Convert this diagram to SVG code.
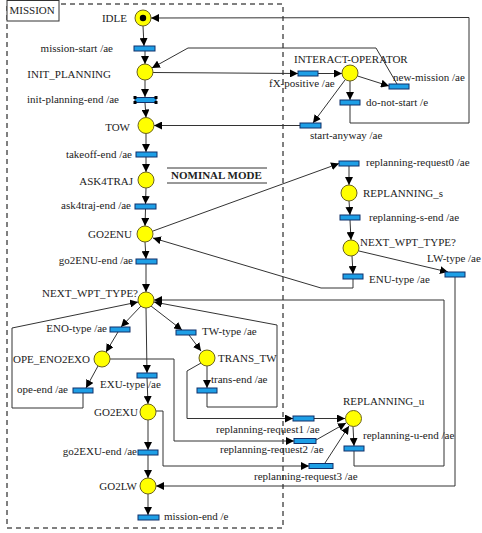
<svg xmlns="http://www.w3.org/2000/svg" width="482" height="533" viewBox="0 0 482 533">
<defs>
<marker id="ah" markerUnits="userSpaceOnUse" markerWidth="9" markerHeight="8" refX="8" refY="4" orient="auto">
<path d="M0,0 L8,4 L0,8 z" fill="#000"/>
</marker>
<style>
text{font-family:"Liberation Serif","Times New Roman",serif;font-size:11px;fill:#222}
.e{text-anchor:end}
.pl{fill:#ffff00;stroke:#6b6220;stroke-width:1}
.tr{fill:#1e9fe6;stroke:#10306a;stroke-width:1}
.cn{fill:none;stroke:#333;stroke-width:1;marker-end:url(#ah)}
.sel{fill:#000}
</style>
</defs>
<rect width="482" height="533" fill="#fff"/>
<rect x="7" y="4" width="276" height="524" fill="none" stroke="#000" stroke-dasharray="5,4"/>
<g id="mission-label">
<rect x="7" y="0.5" width="52" height="20.5" fill="#fff" stroke="#333"/>
<text x="9.5" y="14">MISSION</text>
</g>
<g id="nominal-mode">
<line x1="167" y1="168" x2="267" y2="168" stroke="#333"/>
<line x1="167" y1="183" x2="267" y2="183" stroke="#333"/>
<text x="171" y="179" style="font-weight:bold">NOMINAL MODE</text>
</g>
<g id="connectors">
<path class="cn" d="M143,26 L144,46"/>
<path class="cn" d="M145,51 L145,64"/>
<path class="cn" d="M145,80 L145,97"/>
<path class="cn" d="M145,103 L146,117.5"/>
<path class="cn" d="M146,133.5 L146,152"/>
<path class="cn" d="M146,157 L146,172"/>
<path class="cn" d="M146,188 L145.5,204"/>
<path class="cn" d="M145.5,209 L145,226"/>
<path class="cn" d="M145,242 L146,259"/>
<path class="cn" d="M146,264 L146,292"/>
<path class="cn" d="M141,306 L121,327"/>
<path class="cn" d="M118,332 L106,352"/>
<path class="cn" d="M151,306 L182,330"/>
<path class="cn" d="M189,335 L201,351"/>
<path class="cn" d="M146,308 L147,373"/>
<path class="cn" d="M147,378 L148,404"/>
<path class="cn" d="M98,366 L86,388"/>
<path class="cn" d="M83,393 L83,408 L12,408 L12,328 L138,302"/>
<path class="cn" d="M207,366 L207,388"/>
<path class="cn" d="M207,393 L207,407 L277,407 L277,325 L154,302"/>
<path class="cn" d="M148,420 L148,450"/>
<path class="cn" d="M148,455 L148,478"/>
<path class="cn" d="M148,494 L148,515"/>
<path class="cn" d="M153,72.5 L298,73.5"/>
<path class="cn" d="M318,73.5 L342,73.5"/>
<path class="cn" d="M357.5,76 L389,86"/>
<path class="cn" d="M350,81 L350,100"/>
<path class="cn" d="M345,80 L313,123"/>
<path class="cn" d="M300,125.5 L154,125.5"/>
<path class="cn" d="M397,84 L376,48 L188,48 L152,68"/>
<path class="cn" d="M350,105 L350,123 L469,123 L469,17.5 L151,18"/>
<path class="cn" d="M153,231 L339,163.5"/>
<path class="cn" d="M349,166 L349,185"/>
<path class="cn" d="M349,201 L350,215"/>
<path class="cn" d="M350,220 L351,240"/>
<path class="cn" d="M352,256 L353,274"/>
<path class="cn" d="M353,279 L353,288 L321,288 L153,238"/>
<path class="cn" d="M359,251 L448,272"/>
<path class="cn" d="M455,277 L455,486 L156,486"/>
<path class="cn" d="M110,359 L174,359 L174,441 L294,441"/>
<path class="cn" d="M201,363 L187,371 L187,418.5 L293,418.5"/>
<path class="cn" d="M156,411 L163,411 L163,466 L309,466"/>
<path class="cn" d="M314,418.5 L345,418.5"/>
<path class="cn" d="M316,440 L346,423"/>
<path class="cn" d="M325,463 L349,426"/>
<path class="cn" d="M353,426.5 L354,446"/>
<path class="cn" d="M354,451 L354,466 L444,466 L444,300 L154,300"/>
</g>
<g id="IDLE"><circle class="pl" cx="143" cy="18" r="8"/><circle cx="143" cy="18" r="3.2" fill="#000"/><text class="e" x="127" y="22">IDLE</text></g>
<g id="INIT_PLANNING"><circle class="pl" cx="145" cy="72" r="8"/><text class="e" x="111" y="78">INIT_PLANNING</text></g>
<g id="TOW"><circle class="pl" cx="146" cy="125.5" r="8"/><text class="e" x="130" y="131">TOW</text></g>
<g id="ASK4TRAJ"><circle class="pl" cx="146" cy="180" r="8"/><text class="e" x="133" y="185">ASK4TRAJ</text></g>
<g id="GO2ENU"><circle class="pl" cx="145" cy="234" r="8"/><text class="e" x="132" y="238">GO2ENU</text></g>
<g id="NEXT_WPT_TYPE"><circle class="pl" cx="146" cy="300" r="8"/><text class="e" x="138" y="297">NEXT_WPT_TYPE?</text></g>
<g id="OPE_ENO2EXO"><circle class="pl" cx="102" cy="359" r="8"/><text x="13" y="363">OPE_ENO2EXO</text></g>
<g id="TRANS_TW"><circle class="pl" cx="207" cy="358" r="8"/><text x="218" y="362">TRANS_TW</text></g>
<g id="GO2EXU"><circle class="pl" cx="148" cy="412" r="8"/><text class="e" x="138" y="416">GO2EXU</text></g>
<g id="GO2LW"><circle class="pl" cx="148" cy="486" r="8"/><text class="e" x="137" y="490">GO2LW</text></g>
<g id="INTERACT-OPERATOR"><circle class="pl" cx="350" cy="73" r="8"/><text x="294" y="63">INTERACT-OPERATOR</text></g>
<g id="REPLANNING_s"><circle class="pl" cx="349" cy="193" r="8"/><text x="363" y="197">REPLANNING_s</text></g>
<g id="NEXT_WPT_TYPE2"><circle class="pl" cx="351" cy="248" r="8"/><text x="360" y="246">NEXT_WPT_TYPE?</text></g>
<g id="REPLANNING_u"><circle class="pl" cx="353.5" cy="418.5" r="8"/><text x="343" y="405">REPLANNING_u</text></g>
<g id="t-mission-start"><rect class="tr" x="134" y="46" width="21" height="5"/><text class="e" x="113" y="52">mission-start /ae</text></g>
<g id="t-init-planning-end"><rect class="tr" x="135" y="97.5" width="21" height="5"/><rect class="sel" x="133.5" y="96" width="3" height="3"/><rect class="sel" x="154.5" y="96" width="3" height="3"/><rect class="sel" x="133.5" y="101" width="3" height="3"/><rect class="sel" x="154.5" y="101" width="3" height="3"/><text class="e" x="119" y="103">init-planning-end /ae</text></g>
<g id="t-takeoff-end"><rect class="tr" x="136" y="152" width="21" height="5"/><text class="e" x="132" y="158">takeoff-end /ae</text></g>
<g id="t-ask4traj-end"><rect class="tr" x="135" y="204" width="21" height="5"/><text class="e" x="131" y="209">ask4traj-end /ae</text></g>
<g id="t-go2ENU-end"><rect class="tr" x="136" y="259" width="21" height="5"/><text class="e" x="133" y="264">go2ENU-end /ae</text></g>
<g id="t-ENO-type"><rect class="tr" x="110" y="327" width="20" height="5"/><text class="e" x="107" y="332">ENO-type /ae</text></g>
<g id="t-TW-type"><rect class="tr" x="176" y="330" width="20" height="5"/><text x="202" y="335">TW-type /ae</text></g>
<g id="t-EXU-type"><rect class="tr" x="137" y="373" width="20" height="5"/><text x="100" y="388">EXU-type /ae</text></g>
<g id="t-ope-end"><rect class="tr" x="73" y="388" width="20" height="5"/><text x="17" y="393">ope-end /ae</text></g>
<g id="t-trans-end"><rect class="tr" x="197" y="388" width="20" height="5"/><text x="211" y="383">trans-end /ae</text></g>
<g id="t-go2EXU-end"><rect class="tr" x="138" y="450" width="20" height="5"/><text class="e" x="137" y="455">go2EXU-end /ae</text></g>
<g id="t-mission-end"><rect class="tr" x="138" y="515" width="21" height="5"/><text x="164" y="520">mission-end /e</text></g>
<g id="t-fX-positive"><rect class="tr" x="298" y="71" width="20" height="5"/><text x="269" y="87">fX-positive /ae</text></g>
<g id="t-new-mission"><rect class="tr" x="389" y="84" width="20" height="5"/><text x="393" y="81">new-mission /ae</text></g>
<g id="t-do-not-start"><rect class="tr" x="340" y="100" width="20" height="5"/><text x="366" y="106">do-not-start /e</text></g>
<g id="t-start-anyway"><rect class="tr" x="300" y="123" width="21" height="5"/><text x="310" y="139">start-anyway /ae</text></g>
<g id="t-replanning-request0"><rect class="tr" x="339" y="161" width="20" height="5"/><text x="366" y="166">replanning-request0 /ae</text></g>
<g id="t-replanning-s-end"><rect class="tr" x="340" y="215" width="20" height="5"/><text x="369" y="221">replanning-s-end /ae</text></g>
<g id="t-ENU-type"><rect class="tr" x="343" y="274" width="20" height="5"/><text x="369" y="283">ENU-type /ae</text></g>
<g id="t-LW-type"><rect class="tr" x="445" y="272" width="20" height="5"/><text x="427" y="262">LW-type /ae</text></g>
<g id="t-replanning-request1"><rect class="tr" x="293" y="416" width="21" height="5"/><text x="216" y="433">replanning-request1 /ae</text></g>
<g id="t-replanning-request2"><rect class="tr" x="294" y="438.5" width="22" height="5"/><text x="220" y="453">replanning-request2 /ae</text></g>
<g id="t-replanning-request3"><rect class="tr" x="309" y="463.5" width="24" height="5"/><text x="254" y="480">replanning-request3 /ae</text></g>
<g id="t-replanning-u-end"><rect class="tr" x="344" y="446" width="20" height="5"/><text x="363" y="439">replanning-u-end /ae</text></g>
</svg>
